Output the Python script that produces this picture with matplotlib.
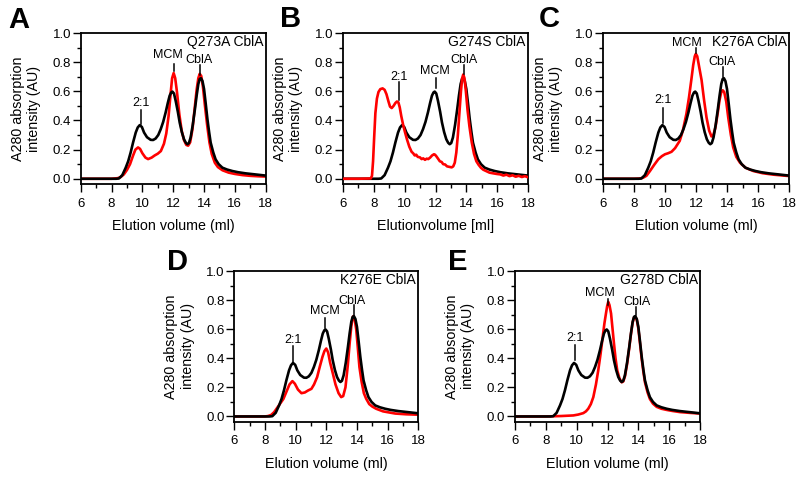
import matplotlib
matplotlib.use("Agg")
import matplotlib.pyplot as plt
from matplotlib.ticker import MultipleLocator

plt.rcParams['font.family'] = ['Liberation Sans', 'DejaVu Sans']

# ---------------- data ----------------
# wild-type reference (black), identical in all panels
wt_x = [6.0, 7.0, 8.0, 8.3, 8.48, 8.7, 8.92, 9.08, 9.24, 9.4, 9.57, 9.7, 9.83, 9.97, 10.11, 10.3,
        10.54, 10.7, 10.86, 11.03, 11.19, 11.35, 11.51, 11.65, 11.77, 11.87, 11.95, 12.05, 12.16,
        12.3, 12.42, 12.56, 12.7, 12.82, 12.92, 13.02, 13.13, 13.27, 13.41, 13.52, 13.63, 13.72,
        13.8, 13.9, 14.0, 14.11, 14.22, 14.33, 14.43, 14.6, 14.75, 14.95, 15.19, 15.5, 15.84, 16.2,
        16.7, 17.3, 17.89, 18.0]
wt_y = [0.0, 0.0, 0.0, 0.0, 0.002, 0.025, 0.076, 0.12, 0.18, 0.25, 0.317, 0.352, 0.368, 0.355,
        0.317, 0.285, 0.267, 0.266, 0.276, 0.30, 0.34, 0.39, 0.455, 0.52, 0.57, 0.592, 0.598,
        0.585, 0.535, 0.46, 0.386, 0.32, 0.271, 0.247, 0.237, 0.245, 0.283, 0.37, 0.478, 0.57,
        0.65, 0.685, 0.69, 0.67, 0.616, 0.515, 0.409, 0.32, 0.248, 0.18, 0.133, 0.1, 0.076,
        0.063, 0.053, 0.045, 0.037, 0.03, 0.023, 0.022]

# Q273A (red, panel A)
q273a_x = [6.0, 8.0, 8.4, 8.6, 8.8, 9.0, 9.2, 9.4, 9.55, 9.72, 9.85, 10.0, 10.2, 10.37, 10.6, 10.8,
           11.0, 11.2, 11.4, 11.55, 11.7, 11.82, 11.93, 12.03, 12.13, 12.25, 12.4, 12.55, 12.7,
           12.85, 12.97, 13.1, 13.25, 13.4, 13.52, 13.63, 13.72, 13.82, 13.93, 14.05, 14.2, 14.35,
           14.5, 14.7, 14.9, 15.2, 15.6, 16.0, 16.5, 17.0, 17.5, 18.0]
q273a_y = [0.0, 0.0, 0.004, 0.012, 0.03, 0.06, 0.1, 0.16, 0.2, 0.215, 0.205, 0.175, 0.145, 0.135,
           0.145, 0.16, 0.172, 0.19, 0.24, 0.31, 0.43, 0.57, 0.69, 0.725, 0.69, 0.59, 0.44, 0.33,
           0.265, 0.232, 0.227, 0.25, 0.34, 0.49, 0.61, 0.69, 0.72, 0.705, 0.63, 0.51, 0.37, 0.25,
           0.17, 0.11, 0.08, 0.058, 0.042, 0.033, 0.025, 0.02, 0.017, 0.015]

# G274S (red, panel B)
g274s_x = [6.0, 7.0, 7.8, 7.88, 7.95, 8.02, 8.1, 8.2, 8.3, 8.42, 8.57, 8.7, 8.82, 8.95, 9.05, 9.16,
           9.28, 9.4, 9.5, 9.59, 9.68, 9.78, 9.9, 10.02, 10.15, 10.3, 10.45, 10.55, 10.65, 10.75,
           10.85, 10.99, 11.1, 11.2, 11.32, 11.43, 11.53, 11.65, 11.78, 11.9, 11.97, 12.05, 12.15,
           12.28, 12.4, 12.5, 12.62, 12.75, 12.88, 13.05, 13.15, 13.25, 13.35, 13.45, 13.55, 13.65,
           13.73, 13.8, 13.88, 13.97, 14.08, 14.2, 14.35, 14.5, 14.65, 14.8, 14.95, 15.1, 15.3,
           15.5, 15.7, 15.97, 16.2, 16.4, 16.6, 16.8, 17.0, 17.2, 17.4, 17.6, 17.8, 18.0]
g274s_y = [0.0, 0.0, 0.002, 0.02, 0.12, 0.28, 0.45, 0.55, 0.595, 0.615, 0.62, 0.61, 0.58, 0.53,
           0.495, 0.485, 0.5, 0.52, 0.53, 0.525, 0.49, 0.43, 0.37, 0.32, 0.27, 0.22, 0.185, 0.175,
           0.16, 0.165, 0.15, 0.147, 0.135, 0.14, 0.13, 0.138, 0.135, 0.145, 0.16, 0.168, 0.165,
           0.155, 0.14, 0.12, 0.115, 0.1, 0.098, 0.085, 0.082, 0.078, 0.085, 0.11, 0.18, 0.3, 0.45,
           0.6, 0.69, 0.715, 0.69, 0.6, 0.47, 0.36, 0.25, 0.17, 0.12, 0.095, 0.075, 0.062, 0.052,
           0.042, 0.038, 0.033, 0.03, 0.022, 0.028, 0.018, 0.024, 0.014, 0.02, 0.012, 0.018, 0.01]

# K276A (red, panel C)
k276a_x = [6.0, 8.0, 8.4, 8.6, 8.8, 9.03, 9.3, 9.57, 9.8, 10.0, 10.2, 10.42, 10.65, 10.95, 11.15,
           11.38, 11.55, 11.7, 11.82, 11.92, 11.99, 12.08, 12.2, 12.36, 12.52, 12.68, 12.85, 13.0,
           13.12, 13.25, 13.4, 13.52, 13.62, 13.72, 13.82, 13.95, 14.08, 14.25, 14.4, 14.6, 14.84,
           15.2, 15.7, 16.3, 17.0, 17.85, 18.0]
k276a_y = [0.0, 0.0, 0.002, 0.008, 0.02, 0.053, 0.095, 0.134, 0.155, 0.168, 0.175, 0.185, 0.21,
           0.26, 0.33, 0.445, 0.56, 0.68, 0.78, 0.84, 0.857, 0.84, 0.77, 0.677, 0.54, 0.42, 0.33,
           0.29, 0.3, 0.35, 0.45, 0.54, 0.59, 0.607, 0.595, 0.53, 0.42, 0.3, 0.215, 0.15, 0.11,
           0.075, 0.053, 0.038, 0.028, 0.02, 0.019]

# K276E (red, panel D)
k276e_x = [6.0, 8.0, 8.2, 8.4, 8.6, 8.8, 9.0, 9.2, 9.4, 9.6, 9.79, 9.95, 10.15, 10.38, 10.6, 10.8,
           11.03, 11.2, 11.4, 11.57, 11.75, 11.88, 12.0, 12.12, 12.25, 12.43, 12.6, 12.8, 12.97,
           13.1, 13.25, 13.4, 13.52, 13.63, 13.72, 13.77, 13.85, 13.95, 14.05, 14.16, 14.3, 14.45,
           14.6, 14.8, 15.0, 15.25, 15.7, 16.5, 17.2, 18.0]
k276e_y = [0.0, 0.0, 0.003, 0.01, 0.03, 0.06, 0.09, 0.12, 0.17, 0.22, 0.243, 0.225, 0.185, 0.16,
           0.165, 0.178, 0.19, 0.22, 0.27, 0.34, 0.41, 0.45, 0.467, 0.44, 0.37, 0.294, 0.22, 0.16,
           0.133, 0.14, 0.2, 0.35, 0.5, 0.62, 0.68, 0.69, 0.67, 0.6, 0.48, 0.34, 0.24, 0.16, 0.122,
           0.085, 0.068, 0.053, 0.035, 0.02, 0.015, 0.012]

# G278D (red, panel E)
g278d_x = [6.0, 8.0, 9.0, 9.78, 10.1, 10.43, 10.6, 10.75, 10.92, 11.08, 11.25, 11.4, 11.55, 11.69,
           11.8, 11.9, 11.98, 12.05, 12.13, 12.23, 12.32, 12.42, 12.52, 12.63, 12.78, 12.92, 13.02,
           13.13, 13.27, 13.41, 13.52, 13.63, 13.72, 13.8, 13.9, 14.0, 14.11, 14.22, 14.33, 14.43,
           14.6, 14.75, 14.95, 15.19, 15.5, 15.84, 16.2, 16.7, 17.3, 18.0]
g278d_y = [0.0, 0.0, 0.003, 0.007, 0.013, 0.023, 0.035, 0.053, 0.085, 0.133, 0.22, 0.317, 0.43,
           0.547, 0.64, 0.708, 0.76, 0.788, 0.765, 0.708, 0.61, 0.501, 0.4, 0.317, 0.26, 0.235,
           0.24, 0.275, 0.36, 0.47, 0.565, 0.645, 0.68, 0.685, 0.665, 0.605, 0.5, 0.395, 0.305,
           0.235, 0.165, 0.12, 0.088, 0.066, 0.053, 0.045, 0.038, 0.03, 0.025, 0.02]

panel_letters = ["A", "B", "C", "D", "E"]
panel_titles = ["Q273A CblA", "G274S CblA", "K276A CblA", "K276E CblA", "G278D CblA"]
x_labels = ["Elution volume (ml)", "Elutionvolume [ml]", "Elution volume (ml)",
            "Elution volume (ml)", "Elution volume (ml)"]
y_label = "A280 absorption\nintensity (AU)"
peak_names = ["2:1", "MCM", "CblA"]
x_ticks = [6, 8, 10, 12, 14, 16, 18]
y_ticks = [0.0, 0.2, 0.4, 0.6, 0.8, 1.0]

mutant_x = [q273a_x, g274s_x, k276a_x, k276e_x, g278d_x]
mutant_y = [q273a_y, g274s_y, k276a_y, k276e_y, g278d_y]

# ---------------- layout ----------------
W, H = 800, 478
axes_px = [  # left, right, top, bottom in pixels
    (80.7, 265.7, 33, 184),
    (343, 528, 33, 184),
    (603, 789, 33, 184),
    (234.3, 418.3, 271, 421.7),
    (515, 700, 271, 421.7),
]
letter_px = [(8, 28), (280, 27), (539, 27), (167, 270), (448, 270)]
# annotation: (text x, text y, line x, line y0, line y1) per peak
annots = [
    [(9.9, 0.52, 9.93, 0.375, 0.47), (11.66, 0.85, 12.03, 0.74, 0.79), (13.67, 0.815, 13.76, 0.71, 0.78)],
    [(9.65, 0.70, 9.62, 0.54, 0.665), (11.97, 0.74, 12.0, 0.625, 0.69), (13.85, 0.815, 13.85, 0.72, 0.78)],
    [(9.89, 0.543, 9.89, 0.38, 0.487), (11.4, 0.93, 12.0, 0.86, 0.896), (13.66, 0.80, 13.76, 0.70, 0.77)],
    [(9.83, 0.524, 9.83, 0.375, 0.483), (11.89, 0.726, 11.93, 0.61, 0.68), (13.69, 0.795, 13.79, 0.70, 0.765)],
    [(9.89, 0.54, 9.89, 0.386, 0.49), (11.51, 0.846, 12.05, 0.765, 0.81), (13.89, 0.79, 13.83, 0.70, 0.75)],
]
red_on_top = [False, True, False, False, False]

fig = plt.figure(figsize=(W / 100, H / 100), dpi=100)

for i in range(5):
    l, r, t, b = axes_px[i]
    ax = fig.add_axes([l / W, 1 - b / H, (r - l) / W, (b - t) / H])
    zr = 3 if red_on_top[i] else 1
    ax.plot(mutant_x[i], mutant_y[i], color='#ff0000', lw=1.9, zorder=zr, solid_joinstyle='round')
    ax.plot(wt_x, wt_y, color='black', lw=1.9, zorder=2, solid_joinstyle='round')
    ax.set_xlim(6, 18)
    ax.set_ylim(-0.036, 1.0)
    ax.set_xticks(x_ticks)
    ax.set_yticks(y_ticks)
    ax.set_yticklabels([f"{v:.1f}" for v in y_ticks])
    ax.xaxis.set_minor_locator(MultipleLocator(1))
    ax.yaxis.set_minor_locator(MultipleLocator(0.1))
    ax.tick_params(which='both', direction='out', width=1.0, labelsize=9.5, top=False, right=False)
    ax.tick_params(which='major', length=5.5)
    ax.tick_params(which='minor', length=3.2)
    ax.tick_params(axis='x', which='major', pad=4.3)
    ax.tick_params(axis='y', which='major', pad=1.5)
    for s in ax.spines.values():
        s.set_linewidth(1.3)
    ax.set_xlabel(x_labels[i], fontsize=10.3)
    ax.xaxis.set_label_coords(0.5, -0.235)
    ax.set_ylabel(y_label, fontsize=10.3, linespacing=1.22)
    ax.yaxis.set_label_coords(-0.215, 0.5)
    ax.text(17.85, 0.935, panel_titles[i], ha='right', va='center', fontsize=10)
    for name, (tx, ty, lx, ly0, ly1) in zip(peak_names, annots[i]):
        ax.text(tx, ty, name, ha='center', va='center', fontsize=9)
        ax.plot([lx, lx], [ly0, ly1], color='black', lw=1.1, zorder=4)
    lx_, ly_ = letter_px[i]
    fig.text(lx_ / W, 1 - ly_ / H, panel_letters[i], fontsize=21, fontweight='bold',
             ha='left', va='baseline')

fig.savefig("out.png", dpi=100)
